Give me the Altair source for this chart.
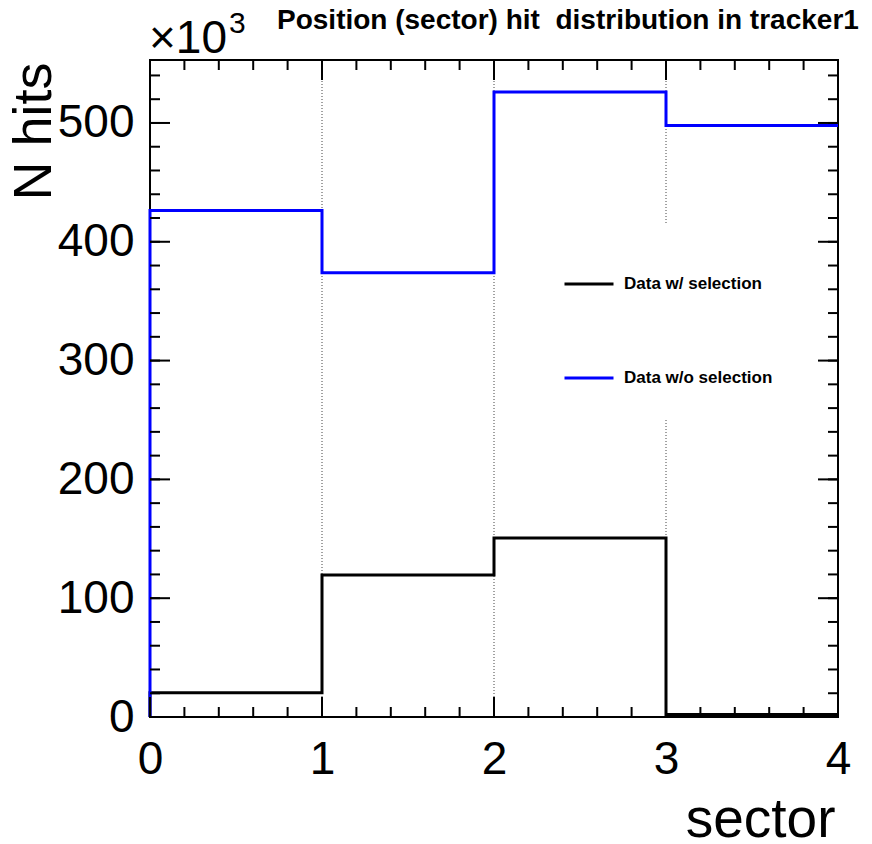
import altair as alt
import numpy as np
import pandas as pd

# Hit counts per sector (in units of 10^3), one value per bin [i, i+1)
sector_edges = [0, 1, 2, 3, 4]
hits_with_sel = [20.5, 119.6, 150.7, 2.0]
hits_without_sel = [426.4, 374.0, 526.0, 497.8]
series_names = ["Data w/ selection", "Data w/o selection"]
series_colors = ["#000000", "#0000ff"]
x_tick_labels = [0, 1, 2, 3, 4]
y_tick_labels = [0, 100, 200, 300, 400, 500]
grid_positions = [1, 2, 3]

# the double space is kept with a no-break space so SVG does not collapse it
title_text = "Position (sector) hit\u00a0 distribution in tracker1"
FONT = "Liberation Sans"

W, H = 688, 657
Y_MAX = 553


def step_rows(name, counts):
    # histogram outline: rise from zero at the first edge, then one step per bin
    xs = [sector_edges[0]] + sector_edges[:-1] + [sector_edges[-1]]
    ys = [0] + list(counts) + [counts[-1]]
    return [{"series": name, "x": x, "y": y, "order": i}
            for i, (x, y) in enumerate(zip(xs, ys))]


hist_df = pd.DataFrame(step_rows(series_names[0], hits_with_sel)
                       + step_rows(series_names[1], hits_without_sel))

x_scale = alt.Scale(domain=[sector_edges[0], sector_edges[-1]], nice=False, zero=False)
y_scale = alt.Scale(domain=[0, Y_MAX], nice=False)

x_axis = alt.Axis(values=x_tick_labels, format="d", labelFont=FONT, labelFontSize=46,
                  labelColor="black", labelPadding=56, labelBaseline="alphabetic",
                  labelFlush=False, ticks=False, tickSize=0, domain=False, grid=False,
                  title="sector", titleFont=FONT, titleFontSize=55, titleFontWeight="normal",
                  titleColor="black", titleAnchor="end", titleAlign="right",
                  titleX=685, titleY=119, titleBaseline="alphabetic")
y_axis = alt.Axis(values=y_tick_labels, format="d", labelFont=FONT, labelFontSize=46,
                  labelColor="black", labelPadding=16, labelFlush=False,
                  ticks=False, tickSize=0, domain=False, grid=False,
                  title="N hits", titleFont=FONT, titleFontSize=54, titleFontWeight="normal",
                  titleColor="black", titleAngle=270, titleAlign="right",
                  titleBaseline="alphabetic", titleX=-100, titleY=2)

# dotted vertical grid at the inner sector boundaries
grid = alt.Chart(pd.DataFrame({"g": grid_positions})).mark_rule(
    color="#444444", strokeWidth=1, strokeDash=[1, 2]
).encode(x=alt.X("g:Q", scale=x_scale, axis=x_axis))

lines = alt.Chart(hist_df).mark_line(interpolate="step-after", strokeWidth=3).encode(
    x=alt.X("x:Q", scale=x_scale, axis=x_axis),
    y=alt.Y("y:Q", scale=y_scale, axis=y_axis),
    color=alt.Color(
        "series:N",
        scale=alt.Scale(domain=series_names, range=series_colors),
        legend=alt.Legend(orient="none", legendX=380, legendY=165, title=None,
                          symbolType="stroke", symbolSize=2401, symbolStrokeWidth=3,
                          labelFont=FONT, labelFontSize=17, labelFontWeight="bold",
                          labelColor="black", labelOffset=9, rowPadding=60,
                          padding=33, fillColor="white", direction="vertical"),
    ),
    order="order:Q",
)

# inward-pointing ticks on all four sides
x_major = pd.DataFrame({"v": x_tick_labels})
x_minor = pd.DataFrame({"v": np.round(np.arange(0, 4.0001, 0.2), 2)})
y_major = pd.DataFrame({"v": y_tick_labels})
y_minor = pd.DataFrame({"v": np.arange(0, 541, 20)})


def xticks(df, length):
    base = alt.Chart(df).mark_rule(color="black", strokeWidth=2)
    bottom = base.encode(x=alt.X("v:Q", scale=x_scale), y=alt.value(H), y2=alt.value(H - length))
    top = base.encode(x=alt.X("v:Q", scale=x_scale), y=alt.value(0), y2=alt.value(length))
    return bottom + top


def yticks(df, length):
    base = alt.Chart(df).mark_rule(color="black", strokeWidth=2)
    left = base.encode(y=alt.Y("v:Q", scale=y_scale), x=alt.value(0), x2=alt.value(length))
    right = base.encode(y=alt.Y("v:Q", scale=y_scale), x=alt.value(W), x2=alt.value(W - length))
    return left + right


ticks = xticks(x_minor, 10) + xticks(x_major, 20) + yticks(y_minor, 10) + yticks(y_major, 20)

label_df = pd.DataFrame({"title": [title_text], "mult": ["\u00d710"], "exp": ["3"]})
title_mark = alt.Chart(label_df).mark_text(
    font=FONT, fontSize=28, fontWeight="bold", align="left", baseline="alphabetic", color="black"
).encode(text="title:N", x=alt.value(127), y=alt.value(-31))
mult_mark = alt.Chart(label_df).mark_text(
    font=FONT, fontSize=46, align="left", baseline="alphabetic", color="black"
).encode(text="mult:N", x=alt.value(-1), y=alt.value(-7))
exp_mark = alt.Chart(label_df).mark_text(
    font=FONT, fontSize=30, align="left", baseline="alphabetic", color="black"
).encode(text="exp:N", x=alt.value(79), y=alt.value(-27))

chart = alt.layer(grid, lines, ticks, title_mark, mult_mark, exp_mark).properties(
    width=W, height=H,
    autosize=alt.AutoSizeParams(type="none"),
    padding={"left": 150, "top": 60, "right": 34, "bottom": 127},
    background="white",
).configure_view(stroke="black", strokeWidth=2)

chart.save("out.html", embed_options={"renderer": "svg", "actions": False})
